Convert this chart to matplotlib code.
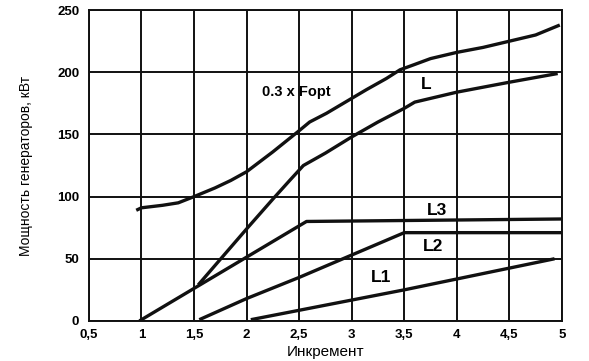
import matplotlib.pyplot as plt
import numpy as np

plt.rcParams['font.family'] = ['Liberation Sans', 'DejaVu Sans']

# кривая 0.3 x Fopt
x_f = [0.95, 1.0, 1.2, 1.35, 1.5, 1.7, 1.85, 2.0, 2.25, 2.5, 2.6, 2.76, 3.0, 3.14, 3.33, 3.46, 3.59, 3.75, 4.0, 4.25, 4.5, 4.75, 4.98]
y_f = [89, 91, 93, 95, 100, 107, 113, 120, 136, 153, 160, 167, 179, 186, 195, 202, 206, 211, 216, 220, 225, 230, 238]

# L
x_l = [1.54, 2.0, 2.25, 2.41, 2.54, 2.75, 3.0, 3.25, 3.5, 3.6, 3.75, 4.0, 4.5, 4.96]
y_l = [29, 74, 98, 113, 125, 135, 148, 160, 171, 176, 179, 184, 192, 199]

# L3, L2, L1
x_l3 = [0.98, 2.57, 5.0]
y_l3 = [0, 80, 82]
x_l2 = [1.55, 2.0, 2.5, 3.0, 3.5, 5.0]
y_l2 = [1, 18, 35, 53, 71, 71]
x_l1 = [2.04, 3.5, 4.93]
y_l1 = [1, 25, 50]

xticks = np.arange(0.5, 5.01, 0.5)
xlabels = ['0,5', '1', '1,5', '2', '2,5', '3', '3,5', '4', '4,5', '5']
yticks = [0, 50, 100, 150, 200, 250]

fig = plt.figure(figsize=(5.89, 3.61), dpi=100)
ax = fig.add_axes([0.151, 0.111, 0.803, 0.861])

for xs, ys in [(x_f, y_f), (x_l, y_l), (x_l3, y_l3), (x_l2, y_l2), (x_l1, y_l1)]:
    ax.plot(xs, ys, color='#111111', lw=2.4, solid_capstyle='butt',
            solid_joinstyle='round', zorder=3)

ax.set_xlim(0.5, 5)
ax.set_ylim(0, 250)
ax.set_xticks(xticks)
ax.set_xticklabels(xlabels, fontweight='bold', fontsize=9.5)
ax.set_yticks(yticks)
ax.set_yticklabels([str(v) for v in yticks], fontweight='bold', fontsize=9.5)
ax.tick_params(axis='x', length=0, pad=6)
ax.tick_params(axis='y', length=0, pad=7)
ax.grid(True, color='#111111', lw=1.4)
for s in ax.spines.values():
    s.set_linewidth(1.4)
    s.set_color('#111111')

ax.set_xlabel('Инкремент', fontsize=11, labelpad=3)
ax.set_ylabel('Мощность генераторов, кВт', fontsize=10, labelpad=17)

ax.text(2.15, 184, '0.3 x Fopt', fontsize=10.5, fontweight='bold', va='center')
ax.text(3.71, 190, 'L', fontsize=12.5, fontweight='bold', ha='center', va='center')
ax.text(3.81, 89, 'L3', fontsize=12.5, fontweight='bold', ha='center', va='center')
ax.text(3.77, 60, 'L2', fontsize=12.5, fontweight='bold', ha='center', va='center')
ax.text(3.28, 35, 'L1', fontsize=12.5, fontweight='bold', ha='center', va='center')

fig.savefig('out.png', dpi=100)
